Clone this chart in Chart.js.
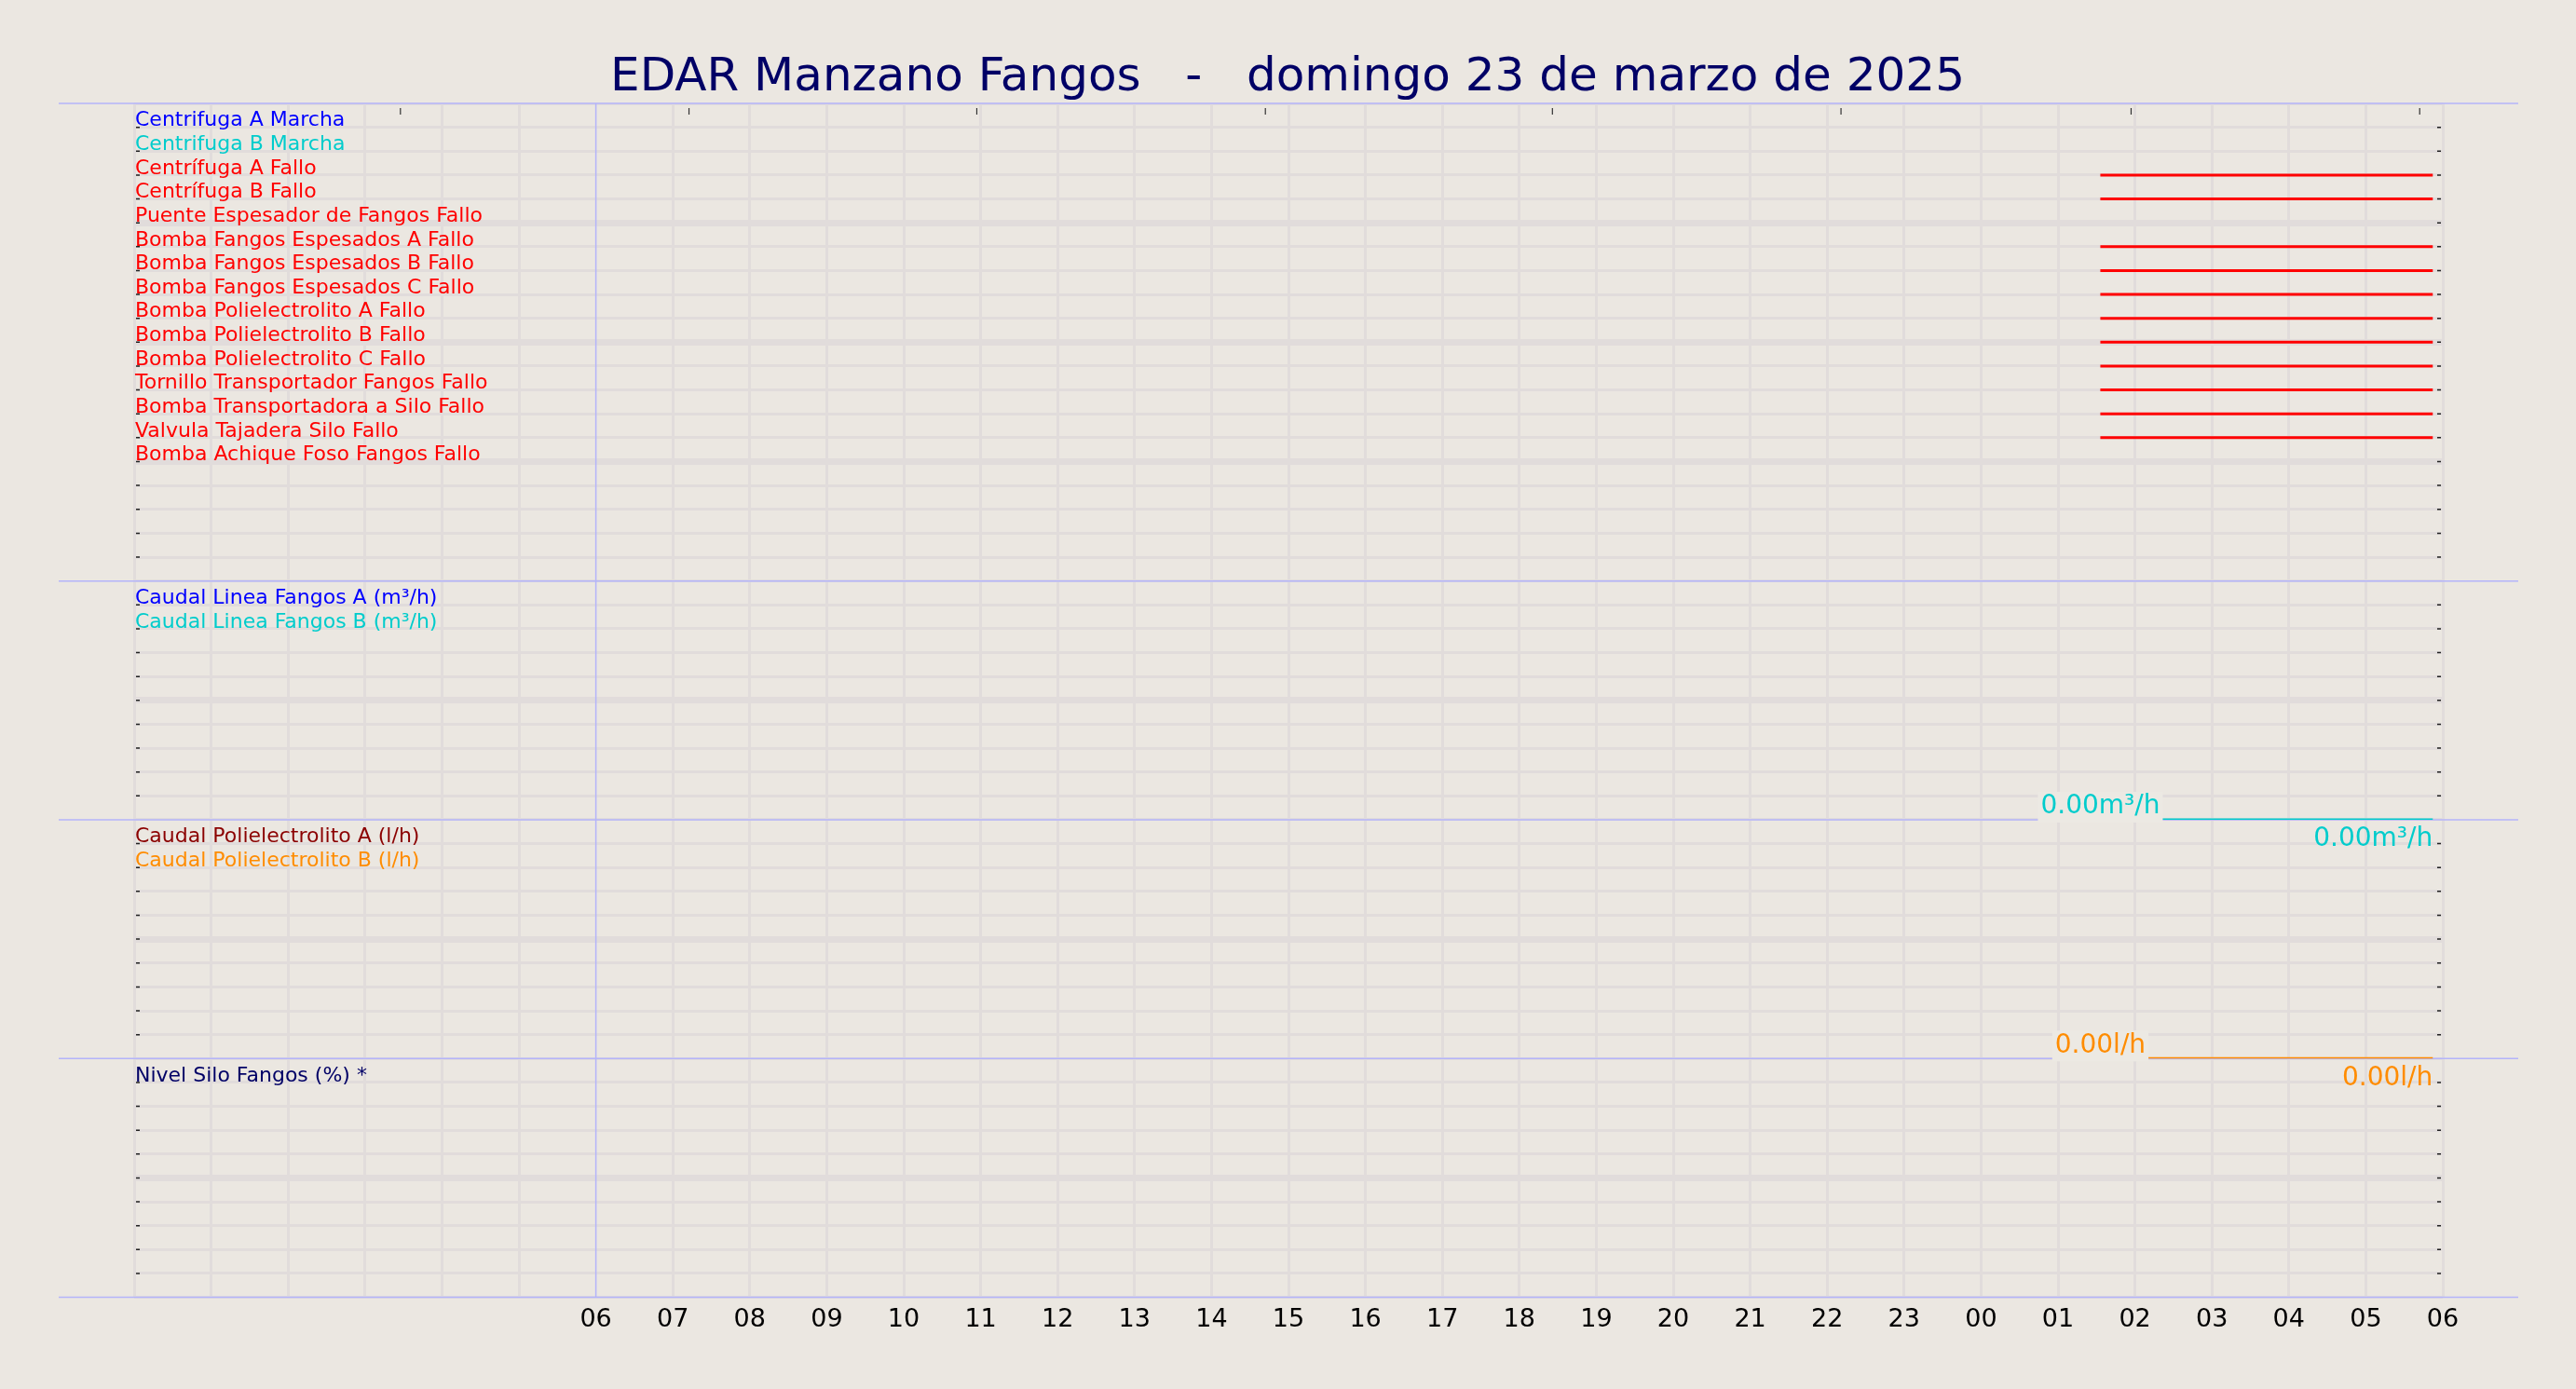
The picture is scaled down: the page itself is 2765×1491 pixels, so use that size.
<!DOCTYPE html>
<html lang="es">
<head>
<meta charset="utf-8">
<title>EDAR Manzano Fangos</title>
<script src="https://cdn.jsdelivr.net/npm/chart.js@4.4.1/dist/chart.umd.min.js"></script>
<style>
  html, body { margin: 0; padding: 0; background: #ebe7e1; }
  #contenedor { width: 2765px; height: 1491px; }
</style>
</head>
<body>
<div id="contenedor"><canvas id="grafica" width="2765" height="1491"></canvas></div>
<script>
// Eje X: horas desde las 00:00 del domingo 23 (30 = 06:00 del lunes)
const horaMin = 0;
const horaMax = 30;
const horaInicioVentana = 6;

// Panel de señales digitales, una fila por señal
const senalesDigitales = [
  'Centrifuga A Marcha',
  'Centrifuga B Marcha',
  'Centrífuga A Fallo',
  'Centrífuga B Fallo',
  'Puente Espesador de Fangos Fallo',
  'Bomba Fangos Espesados A Fallo',
  'Bomba Fangos Espesados B Fallo',
  'Bomba Fangos Espesados C Fallo',
  'Bomba Polielectrolito A Fallo',
  'Bomba Polielectrolito B Fallo',
  'Bomba Polielectrolito C Fallo',
  'Tornillo Transportador Fangos Fallo',
  'Bomba Transportadora a Silo Fallo',
  'Valvula Tajadera Silo Fallo',
  'Bomba Achique Foso Fangos Fallo'
];
const coloresDigitales = ['#0000ff', '#00cccc', '#ff0000', '#ff0000', '#ff0000', '#ff0000', '#ff0000',
  '#ff0000', '#ff0000', '#ff0000', '#ff0000', '#ff0000', '#ff0000', '#ff0000', '#ff0000'];
// tramo activo de cada señal (hora de inicio / fin), null = sin actividad
const activoDesde = [null, null, 25.55, 25.55, null, 25.55, 25.55, 25.55, 25.55, 25.55, 25.55, 25.55, 25.55, 25.55, null];
const activoHasta = [null, null, 29.87, 29.87, null, 29.87, 29.87, 29.87, 29.87, 29.87, 29.87, 29.87, 29.87, 29.87, null];
const filasVaciasDigital = 4;

// Caudales de fangos (m³/h)
const leyendaCaudal = ['Caudal Linea Fangos A (m³/h)', 'Caudal Linea Fangos B (m³/h)'];
const coloresCaudal = ['#0000ff', '#00cccc'];
const horasCaudalB = [25.55, 29.87];
const valoresCaudalB = [0, 0];

// Caudales de polielectrolito (l/h)
const leyendaPoli = ['Caudal Polielectrolito A (l/h)', 'Caudal Polielectrolito B (l/h)'];
const coloresPoli = ['#8b0000', '#ff8c00'];
const horasPoliB = [25.55, 29.87];
const valoresPoliB = [0, 0];

// Nivel del silo (%)
const leyendaSilo = ['Nivel Silo Fangos (%) *'];
const coloresSilo = ['#000066'];

// marcas cortas del borde superior (horas)
const marcasSuperiores = [3.46, 7.21, 10.95, 14.7, 18.43, 22.18, 25.95, 29.7];

const colorFondo = '#ebe7e1';
const colorRejilla = '#e1dcdb';
const colorSeparador = '#b4b4fa';

Chart.defaults.font.family = '"DejaVu Sans", sans-serif';

// etiquetas del eje de categorías (fila 0 = borde superior)
const filasDigital = [''].concat(senalesDigitales, Array(filasVaciasDigital + 1).fill(''));

const datasets = [];
senalesDigitales.forEach((nombre, i) => {
  if (activoDesde[i] === null) return;
  datasets.push({
    label: nombre,
    yAxisID: 'yDig',
    data: [{x: activoDesde[i], y: nombre}, {x: activoHasta[i], y: nombre}],
    borderColor: coloresDigitales[i],
    borderWidth: 3,
    pointRadius: 0
  });
});
datasets.push({
  label: leyendaCaudal[1],
  yAxisID: 'yLin',
  unidad: 'm³/h',
  data: horasCaudalB.map((h, i) => ({x: h, y: valoresCaudalB[i]})),
  borderColor: coloresCaudal[1],
  borderWidth: 3,
  pointRadius: 0
});
datasets.push({
  label: leyendaPoli[1],
  yAxisID: 'yPol',
  unidad: 'l/h',
  data: horasPoliB.map((h, i) => ({x: h, y: valoresPoliB[i]})),
  borderColor: coloresPoli[1],
  borderWidth: 3,
  pointRadius: 0
});

// eje Y de un panel analógico con la leyenda escrita en las filas superiores
function ejePanel(max, paso, leyenda, colores) {
  const filas = max / paso;
  return {
    type: 'linear', position: 'left', stack: 'paneles', stackWeight: 1,
    min: 0, max: max,
    border: {display: false},
    grid: {
      color: colorRejilla,
      drawTicks: false,
      lineWidth: (c) => (c.tick && c.tick.value === max / 2) ? 7 : 3
    },
    ticks: {
      stepSize: paso, autoSkip: false, mirror: true, padding: 1, labelOffset: -7,
      font: {size: 22},
      color: (c) => colores[filas - 1 - Math.round(c.tick.value / paso)] || '#000',
      callback: (v) => leyenda[filas - 1 - Math.round(v / paso)] || ''
    }
  };
}

// marcas, separadores y línea de las 06
const decoracion = {
  id: 'decoracion',
  beforeDatasetsDraw(chart) {
    const {ctx, chartArea, scales} = chart;
    ctx.save();
    ctx.strokeStyle = '#222';
    ctx.lineWidth = 1.5;
    ['yDig', 'yLin', 'yPol', 'ySilo'].forEach(id => {
      const s = scales[id];
      s.ticks.forEach((t, i) => {
        if (i === 0 || i === s.ticks.length - 1) return;
        const y = s.getPixelForTick(i);
        ctx.beginPath();
        ctx.moveTo(chartArea.left + 2, y); ctx.lineTo(chartArea.left + 6, y);
        ctx.moveTo(chartArea.right - 6, y); ctx.lineTo(chartArea.right - 2, y);
        ctx.stroke();
      });
    });
    ctx.strokeStyle = '#333';
    ctx.lineWidth = 1.2;
    marcasSuperiores.forEach(h => {
      const x = scales.x.getPixelForValue(h);
      ctx.beginPath();
      ctx.moveTo(x, chartArea.top + 5); ctx.lineTo(x, chartArea.top + 12);
      ctx.stroke();
    });
    ctx.strokeStyle = colorSeparador;
    ctx.lineWidth = 1.5;
    const x6 = scales.x.getPixelForValue(horaInicioVentana);
    ctx.beginPath();
    ctx.moveTo(x6, chartArea.top); ctx.lineTo(x6, chartArea.bottom);
    ctx.stroke();
    const bordes = [scales.yDig.top, scales.yLin.top, scales.yPol.top, scales.ySilo.top, scales.ySilo.bottom];
    bordes.forEach(y => {
      ctx.beginPath();
      ctx.moveTo(chartArea.left - 81, y); ctx.lineTo(chartArea.right + 81, y);
      ctx.stroke();
    });
    ctx.restore();
  },
  afterDatasetsDraw(chart) {
    const {ctx} = chart;
    chart.data.datasets.forEach((ds, i) => {
      if (!ds.unidad) return;
      const pts = chart.getDatasetMeta(i).data;
      if (!pts.length) return;
      const primero = pts[0];
      const ultimo = pts[pts.length - 1];
      const txtIni = ds.data[0].y.toFixed(2) + ds.unidad;
      const txtFin = ds.data[ds.data.length - 1].y.toFixed(2) + ds.unidad;
      ctx.save();
      ctx.font = '28px "DejaVu Sans"';
      const w = ctx.measureText(txtIni).width;
      ctx.fillStyle = '#ece9e3';
      ctx.fillRect(primero.x - w / 2 - 3, primero.y - 30, w + 6, 33);
      ctx.fillStyle = ds.borderColor;
      ctx.textBaseline = 'middle';
      ctx.textAlign = 'center';
      ctx.fillText(txtIni, primero.x, primero.y - 14);
      ctx.textAlign = 'right';
      ctx.fillText(txtFin, ultimo.x, ultimo.y + 21);
      ctx.restore();
    });
  }
};

new Chart(document.getElementById('grafica'), {
  type: 'line',
  data: {datasets: datasets},
  options: {
    responsive: false,
    animation: false,
    devicePixelRatio: 1,
    layout: {padding: {left: 142, right: 143, top: 0, bottom: 50}},
    plugins: {
      legend: {display: false},
      tooltip: {enabled: false},
      title: {
        display: true,
        text: 'EDAR Manzano Fangos   -   domingo 23 de marzo de 2025',
        color: '#000066',
        font: {size: 50, weight: 'normal', lineHeight: 1.08},
        padding: {top: 57, bottom: 0}
      }
    },
    scales: {
      x: {
        type: 'linear', position: 'bottom', min: horaMin, max: horaMax,
        border: {display: false},
        grid: {
          drawTicks: false,
          lineWidth: 3,
          color: (c) => (c.tick && c.tick.value === horaInicioVentana) ? 'rgba(0,0,0,0)' : colorRejilla
        },
        ticks: {
          stepSize: 1, autoSkip: false, maxRotation: 0, padding: 8,
          color: '#000', font: {size: 27},
          callback: (v) => v >= horaInicioVentana ? String(v % 24).padStart(2, '0') : ''
        }
      },
      ySilo: ejePanel(100, 10, leyendaSilo, coloresSilo),
      yPol: ejePanel(10, 1, leyendaPoli, coloresPoli),
      yLin: ejePanel(10, 1, leyendaCaudal, coloresCaudal),
      yDig: {
        type: 'category', labels: filasDigital, position: 'left', stack: 'paneles', stackWeight: 2,
        offset: false,
        border: {display: false},
        grid: {
          color: colorRejilla,
          drawTicks: false,
          offset: false,
          lineWidth: (c) => (c.index % 5 === 0 && c.index % 20 !== 0) ? 7 : 3
        },
        ticks: {
          autoSkip: false, mirror: true, padding: 1, labelOffset: -7,
          font: {size: 22},
          color: (c) => coloresDigitales[c.index - 1] || '#000'
        }
      }
    }
  },
  plugins: [decoracion]
});
</script>
</body>
</html>
